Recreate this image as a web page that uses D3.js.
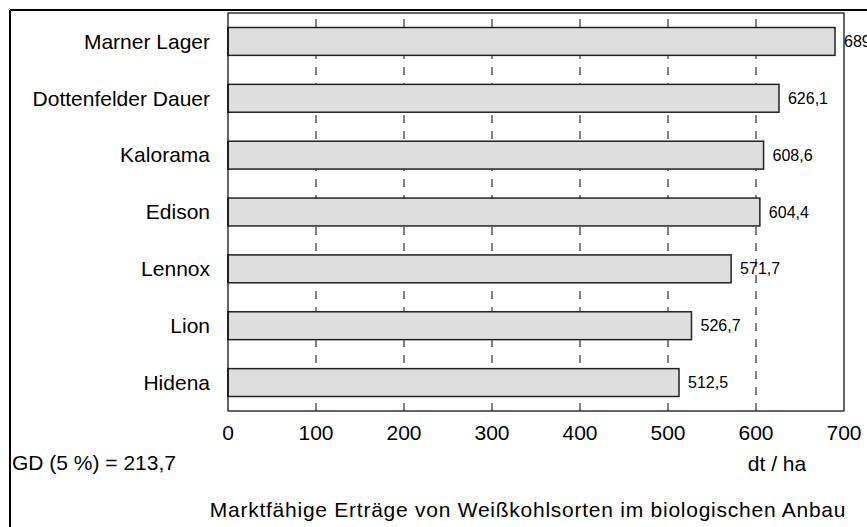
<!DOCTYPE html>
<html><head><meta charset="utf-8">
<script src="https://cdn.jsdelivr.net/npm/d3@7"></script>
<style>body{margin:0;background:#fff}svg{display:block;font-family:"Liberation Sans",Arial,sans-serif}</style>
</head><body><svg id="c" width="867" height="527"></svg>
<script>
const categories = ["Marner Lager","Dottenfelder Dauer","Kalorama","Edison","Lennox","Lion","Hidena"];
const values = [689.8, 626.1, 608.6, 604.4, 571.7, 526.7, 512.5];
const valueLabels = ["689,8","626,1","608,6","604,4","571,7","526,7","512,5"];
const xTicks = [0,100,200,300,400,500,600,700];
const gridTicks = [100,200,300,400,500,600];

const svg = d3.select("#c");
const L = 228, R = 844, T = 13, B = 411;
const x = d3.scaleLinear().domain([0,700]).range([L,R]);
const y = d3.scaleBand().domain(categories).range([T,B]).paddingInner(0.51).paddingOuter(0.255);

// outer frame
svg.append("line").attr("x1",10).attr("x2",867).attr("y1",10).attr("y2",10).attr("stroke","#000").attr("stroke-width",2);
svg.append("line").attr("x1",10).attr("x2",10).attr("y1",10).attr("y2",527).attr("stroke","#000").attr("stroke-width",2);

// gridlines
svg.append("g").selectAll("line").data(gridTicks).join("line")
  .attr("x1",d=>x(d)).attr("x2",d=>x(d)).attr("y1",T).attr("y2",B)
  .attr("stroke","#333").attr("stroke-width",1.2)
  .attr("stroke-dasharray","8,8").attr("stroke-dashoffset",10);

// bars
svg.append("g").selectAll("rect").data(values).join("rect")
  .attr("x",x(0)).attr("y",(d,i)=>y(categories[i]))
  .attr("width",d=>x(d)-x(0)).attr("height",y.bandwidth())
  .attr("fill","#dedede").attr("stroke","#222").attr("stroke-width",1.5);

// plot frame
svg.append("rect").attr("x",L).attr("y",T).attr("width",R-L).attr("height",B-T)
  .attr("fill","none").attr("stroke","#000").attr("stroke-width",1.2);

// value labels
svg.append("g").selectAll("text").data(values).join("text")
  .attr("x",d=>x(d)+9).attr("y",(d,i)=>y(categories[i])+y.bandwidth()/2)
  .attr("dy","0.35em").attr("font-size",16).attr("fill","#000")
  .text((d,i)=>valueLabels[i]);

// category labels
svg.append("g").selectAll("text").data(categories).join("text")
  .attr("x",L-18).attr("y",d=>y(d)+y.bandwidth()/2).attr("dy","0.35em")
  .attr("text-anchor","end").attr("font-size",21).text(d=>d);

// x axis labels
svg.append("g").selectAll("text").data(xTicks).join("text")
  .attr("x",d=>x(d)).attr("y",440).attr("text-anchor","middle")
  .attr("font-size",21).text(d=>d);

svg.append("text").attr("x",12).attr("y",470).attr("font-size",21).text("GD (5 %) = 213,7");
svg.append("text").attr("x",777).attr("y",471).attr("text-anchor","middle").attr("font-size",21).text("dt / ha");
svg.append("text").attr("x",528).attr("y",517).attr("text-anchor","middle").attr("font-size",21)
  .attr("letter-spacing",0.75)
  .text("Marktfähige Erträge von Weißkohlsorten im biologischen Anbau");
</script></body></html>
